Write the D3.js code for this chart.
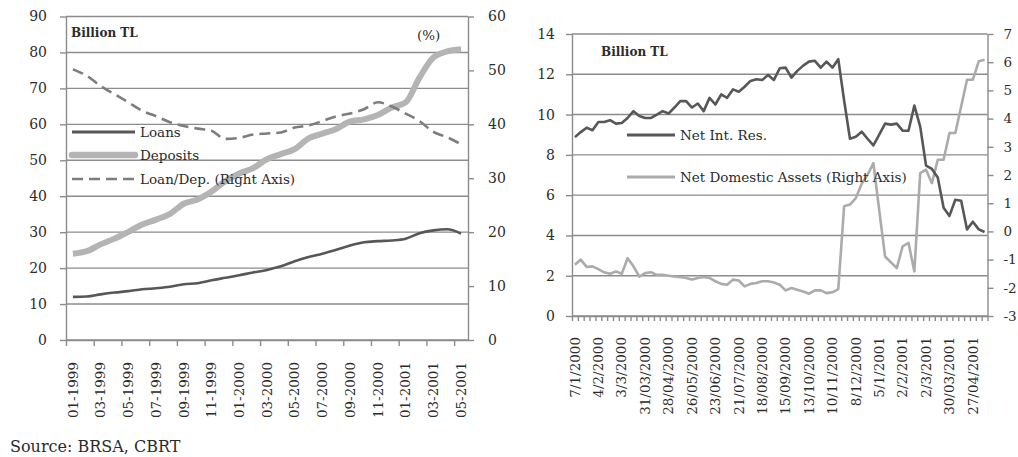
<!DOCTYPE html>
<html>
<head>
<meta charset="utf-8">
<script src="https://cdn.jsdelivr.net/npm/d3@7/dist/d3.min.js"></script>
<style>
  body { margin: 0; background: #fff; }
  svg { display: block; font-family: 'DejaVu Serif', serif; }
</style>
</head>
<body>
<svg id="chart" width="1018" height="457"></svg>
<script>
// left panel: monthly, billion TL + ratio on right axis
const months = [
  '01-1999', '02-1999', '03-1999', '04-1999', '05-1999', '06-1999',
  '07-1999', '08-1999', '09-1999', '10-1999', '11-1999', '12-1999',
  '01-2000', '02-2000', '03-2000', '04-2000', '05-2000', '06-2000',
  '07-2000', '08-2000', '09-2000', '10-2000', '11-2000', '12-2000',
  '01-2001', '02-2001', '03-2001', '04-2001', '05-2001',
]
const loans = [
  12.0, 12.1, 12.7, 13.2, 13.6, 14.1, 14.4, 14.8, 15.5, 15.8, 16.6, 17.3,
  18.0, 18.8, 19.5, 20.5, 21.9, 23.1, 24.0, 25.1, 26.3, 27.2, 27.5, 27.7,
  28.2, 29.7, 30.5, 30.8, 29.6,
]
const deposits = [
  24.0, 24.7, 26.6, 28.2, 30.1, 32.1, 33.5, 35.1, 37.9, 39.1, 41.3, 44.2,
  46.3, 47.8, 50.3, 51.7, 53.1, 56.1, 57.4, 58.7, 60.8, 61.4, 62.6, 64.7,
  66.1, 73.0, 78.6, 80.3, 80.9,
]
const loanDepRatio = [
  50.2, 49.0, 47.1, 45.6, 44.1, 42.5, 41.5, 40.4, 39.7, 39.2, 38.8, 37.3,
  37.5, 38.1, 38.3, 38.5, 39.4, 39.8, 40.6, 41.5, 42.0, 42.8, 44.1, 43.3,
  42.0, 40.6, 38.6, 37.6, 36.3,
]
const leftTicks = [0, 10, 20, 30, 40, 50, 60, 70, 80, 90]
const ratioTicks = [0, 10, 20, 30, 40, 50, 60]

// right panel: weekly, 7/1/2000 .. 11/05/2001
const netIntRes = [
  8.88, 9.13, 9.35, 9.22, 9.63, 9.63, 9.72, 9.55, 9.58, 9.83, 10.17, 9.93,
  9.83, 9.83, 10.0, 10.17, 10.05, 10.35, 10.67, 10.67, 10.35, 10.55, 10.17, 10.83,
  10.5, 11.0, 10.83, 11.25, 11.13, 11.38, 11.67, 11.75, 11.72, 11.97, 11.72, 12.3,
  12.33, 11.83, 12.17, 12.43, 12.63, 12.67, 12.33, 12.63, 12.33, 12.75, 10.7, 8.8,
  8.9, 9.15, 8.8, 8.47, 9.0, 9.55, 9.5, 9.55, 9.2, 9.2, 10.45, 9.4,
  7.47, 7.3, 6.88, 5.38, 4.97, 5.77, 5.72, 4.3, 4.68, 4.3, 4.17,
]
const netDomAssets = [
  -1.18, -1.0, -1.26, -1.24, -1.34, -1.45, -1.5, -1.42, -1.5, -0.95, -1.24, -1.6,
  -1.48, -1.45, -1.54, -1.54, -1.57, -1.6, -1.62, -1.65, -1.71, -1.65, -1.62, -1.65,
  -1.77, -1.86, -1.89, -1.71, -1.74, -1.95, -1.86, -1.83, -1.77, -1.77, -1.81, -1.89,
  -2.09, -2.01, -2.07, -2.13, -2.21, -2.09, -2.09, -2.19, -2.16, -2.05, 0.89, 0.95,
  1.18, 1.69, 2.0, 2.42, 0.75, -0.89, -1.1, -1.3, -0.53, -0.41, -1.42, 2.07,
  2.19, 1.71, 2.54, 2.54, 3.49, 3.49, 4.43, 5.38, 5.38, 6.03, 6.09,
]
const weekTickLabels = [
  '7/1/2000', '4/2/2000', '3/3/2000', '31/03/2000', '28/04/2000', '26/05/2000',
  '23/06/2000', '21/07/2000', '18/08/2000', '15/09/2000', '13/10/2000', '10/11/2000',
  '8/12/2000', '5/1/2001', '2/2/2001', '2/3/2001', '30/03/2001', '27/04/2001',
]
const resTicks = [0, 2, 4, 6, 8, 10, 12, 14]
const ndaTicks = [-3, -2, -1, 0, 1, 2, 3, 4, 5, 6, 7]

const GRID = '#8c8c8c'
const TEXT = '#2b2b2b'
const DARK = '#575757'
const LIGHT = '#b4b4b4'

const svg = d3.select('#chart')

// plain hyphen instead of d3's unicode minus, it is much narrower
const plain = d => String(d)

const styleAxis = (g, size = 14) => {
  g.selectAll('path, line').attr('stroke', GRID).attr('stroke-width', 1.4)
  g.selectAll('text')
    .attr('fill', TEXT)
    .attr('font-size', size)
    .attr('font-family', 'DejaVu Serif, serif')
}

const drawGrid = (yScale, values, x0, x1) => {
  svg.append('g')
    .selectAll('line')
    .data(values)
    .join('line')
    .attr('x1', x0)
    .attr('x2', x1)
    .attr('y1', d => yScale(d))
    .attr('y2', d => yScale(d))
    .attr('stroke', GRID)
    .attr('stroke-width', 1.4)
}

const drawLine = (data, x, y, opts, curve) => {
  const line = d3.line()
    .x((d, i) => x(x.domain()[i]) + x.bandwidth() / 2)
    .y(d => y(d))
    .curve(curve || d3.curveLinear)
  svg.append('path')
    .datum(data)
    .attr('d', line)
    .attr('fill', 'none')
    .attr('stroke', opts.color)
    .attr('stroke-width', opts.width)
    .attr('stroke-dasharray', opts.dash || null)
    .attr('stroke-linejoin', 'round')
    .attr('stroke-linecap', opts.cap || 'butt')
}

const legendItem = (x0, x1, y, label, opts) => {
  svg.append('line')
    .attr('x1', x0).attr('x2', x1).attr('y1', y).attr('y2', y)
    .attr('stroke', opts.color)
    .attr('stroke-width', opts.width)
    .attr('stroke-dasharray', opts.dash || null)
    .attr('stroke-linecap', opts.cap || 'butt')
  svg.append('text')
    .attr('x', x1 + 5)
    .attr('y', y)
    .attr('dy', '0.35em')
    .attr('fill', TEXT)
    .attr('font-size', 13.5)
    .text(label)
}

// ---- left panel
const lx = d3.scaleBand().domain(months).range([66, 468])
const ly = d3.scaleLinear().domain([0, 90]).range([340, 16.5])
const lyRatio = d3.scaleLinear().domain([0, 60]).range([340, 16.5])
const lxEdge = d3.scaleLinear().domain([0, months.length]).range([66, 468])

drawGrid(ly, leftTicks, 66, 468)

svg.append('g')
  .attr('transform', 'translate(66,0)')
  .call(d3.axisLeft(ly).tickValues(leftTicks).tickFormat(plain).tickSize(6).tickSizeOuter(0).tickPadding(13))
  .call(styleAxis)

svg.append('g')
  .attr('transform', 'translate(468,0)')
  .call(d3.axisRight(lyRatio).tickValues(ratioTicks).tickFormat(plain).tickSize(6).tickSizeOuter(0).tickPadding(14))
  .call(styleAxis)

svg.append('g')
  .attr('transform', 'translate(0,340)')
  .call(d3.axisBottom(lxEdge).tickValues(d3.range(0, months.length, 2)).tickSize(6).tickSizeOuter(0).tickFormat(''))
  .call(styleAxis)

svg.append('g')
  .selectAll('text')
  .data(months.filter((m, i) => i % 2 === 0))
  .join('text')
  .attr('transform', d => `translate(${lx(d) + lx.bandwidth() / 2},362) rotate(-90)`)
  .attr('text-anchor', 'end')
  .attr('dy', '0.35em')
  .attr('fill', TEXT)
  .attr('font-size', 13.5)
  .text(d => d)

drawLine(deposits, lx, ly, {color: LIGHT, width: 6}, d3.curveMonotoneX)
drawLine(loans, lx, ly, {color: DARK, width: 2.6}, d3.curveMonotoneX)
drawLine(loanDepRatio, lx, lyRatio, {color: '#7d7d7d', width: 2.6, dash: '11,6'}, d3.curveMonotoneX)

svg.append('text').attr('x', 71).attr('y', 33).attr('dy', '0.35em')
  .attr('fill', TEXT).attr('font-size', 12).attr('font-weight', 'bold').text('Billion TL')
svg.append('text').attr('x', 417).attr('y', 35).attr('dy', '0.35em')
  .attr('fill', TEXT).attr('font-size', 13.5).text('(%)')

legendItem(72, 135, 132, 'Loans', {color: DARK, width: 3})
legendItem(72, 135, 155, 'Deposits', {color: LIGHT, width: 6.5, cap: 'round'})
legendItem(72, 135, 179, 'Loan/Dep. (Right Axis)', {color: '#7d7d7d', width: 2.6, dash: '11,6'})

// ---- right panel
const weeks = d3.range(netIntRes.length)
const rx = d3.scaleBand().domain(weeks).range([572, 987.5])
const ry = d3.scaleLinear().domain([0, 14]).range([316, 34])
const ryNda = d3.scaleLinear().domain([-3, 7]).range([316, 34])
const rxEdge = d3.scaleLinear().domain([0, weeks.length]).range([572, 987.5])

drawGrid(ry, resTicks, 572, 987.5)

svg.append('g')
  .attr('transform', 'translate(572,0)')
  .call(d3.axisLeft(ry).tickValues(resTicks).tickFormat(plain).tickSize(6).tickSizeOuter(0).tickPadding(11))
  .call(styleAxis)

svg.append('g')
  .attr('transform', 'translate(987.5,0)')
  .call(d3.axisRight(ryNda).tickValues(ndaTicks).tickFormat(plain).tickSize(6).tickSizeOuter(0).tickPadding(10))
  .call(g => styleAxis(g, 13.5))

svg.append('g')
  .attr('transform', 'translate(0,316)')
  .call(d3.axisBottom(rxEdge).tickValues(d3.range(0, weeks.length + 1)).tickSize(5).tickSizeOuter(0).tickFormat(''))
  .call(styleAxis)

svg.append('g')
  .selectAll('text')
  .data(weekTickLabels)
  .join('text')
  .attr('transform', (d, i) => `translate(${rx(weeks[i * 4]) + rx.bandwidth() / 2},337) rotate(-90)`)
  .attr('text-anchor', 'end')
  .attr('dy', '0.35em')
  .attr('fill', TEXT)
  .attr('font-size', 13.5)
  .text(d => d)

drawLine(netDomAssets, rx, ryNda, {color: '#ababab', width: 2.6})
drawLine(netIntRes, rx, ry, {color: DARK, width: 2.6})

svg.append('text').attr('x', 601).attr('y', 52).attr('dy', '0.35em')
  .attr('fill', TEXT).attr('font-size', 12).attr('font-weight', 'bold').text('Billion TL')

legendItem(627, 675, 135, 'Net Int. Res.', {color: DARK, width: 3})
legendItem(627, 675, 177, 'Net Domestic Assets (Right Axis)', {color: '#ababab', width: 3})

svg.append('text').attr('x', 10).attr('y', 446).attr('dy', '0.35em')
  .attr('fill', TEXT).attr('font-size', 16).text('Source: BRSA, CBRT')
</script>
</body>
</html>
